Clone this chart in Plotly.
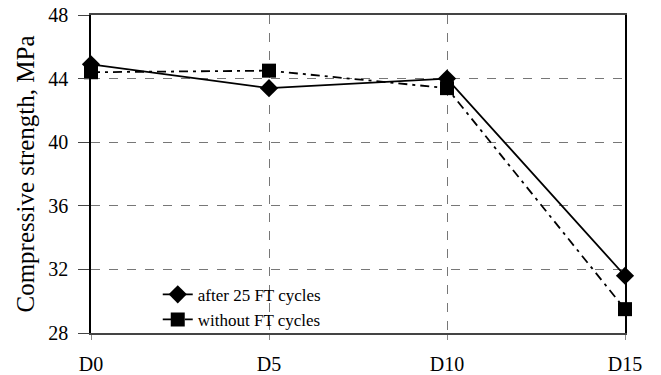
import plotly.graph_objects as go

categories = ["D0", "D5", "D10", "D15"]
after_ft = [44.9, 43.4, 44.0, 31.6]
without_ft = [44.4, 44.5, 43.4, 29.5]
y_ticks = [28, 32, 36, 40, 44, 48]

xpos = list(range(len(categories)))
FONT = "Liberation Serif"

fig = go.Figure()
fig.add_trace(go.Scatter(
    x=xpos, y=after_ft, name="after 25 FT cycles", mode="lines+markers",
    line=dict(color="black", width=1.8, dash="solid"),
    marker=dict(symbol="diamond", size=14, color="black"),
    cliponaxis=False,
))
fig.add_trace(go.Scatter(
    x=xpos, y=without_ft, name="without FT cycles", mode="lines+markers",
    line=dict(color="black", width=1.8, dash="9px,5px,3px,5px"),
    marker=dict(symbol="square", size=14, color="black"),
    cliponaxis=False,
))

fig.update_layout(
    width=661, height=375,
    margin=dict(l=91, r=36, t=15, b=42),
    paper_bgcolor="white", plot_bgcolor="white",
    font=dict(family=FONT, size=20, color="black"),
    showlegend=True,
    legend=dict(x=0.125, y=-0.015, xanchor="left", yanchor="bottom",
                bgcolor="rgba(0,0,0,0)", font=dict(family=FONT, size=17),
                tracegroupgap=0),
    xaxis=dict(
        range=[0, 3], tickvals=xpos, ticktext=categories,
        showgrid=True, gridcolor="#777", griddash="dash", gridwidth=1,
        showline=True, linecolor="#444", linewidth=1.5, mirror=True,
        ticks="outside", ticklen=5, tickcolor="#888",
        ticklabelstandoff=7, automargin=False,
        zeroline=False,
    ),
    yaxis=dict(
        range=[28, 48], tickvals=y_ticks,
        showgrid=True, gridcolor="#777", griddash="dash", gridwidth=1,
        showline=True, linecolor="black", linewidth=1.5, mirror=True,
        ticks="outside", ticklen=11, tickcolor="#444",
        ticklabelstandoff=6, automargin=False,
        title=dict(text="Compressive strength, MPa", font=dict(family=FONT, size=25), standoff=7),
        zeroline=False,
    ),
)

fig.write_html("out.html")
